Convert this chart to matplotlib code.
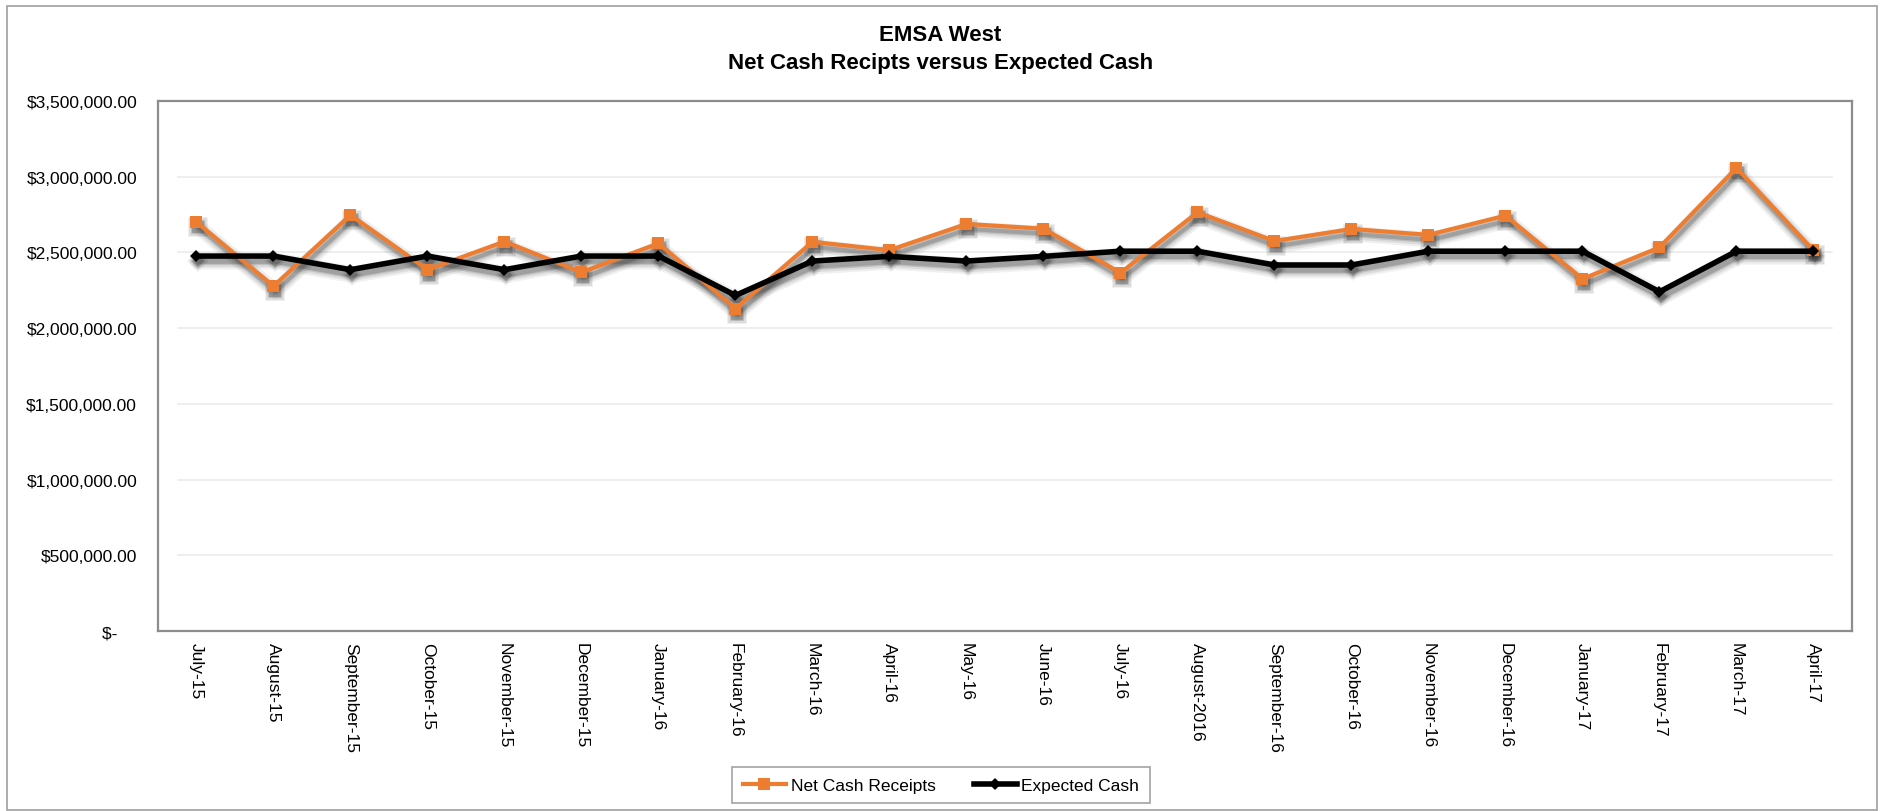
import numpy as np
import matplotlib
matplotlib.use('Agg')
import matplotlib.pyplot as plt
import matplotlib.transforms as mtransforms
from matplotlib.patches import Rectangle
from matplotlib.ticker import FuncFormatter

# --- Data ---
months = ["July-15", "August-15", "September-15", "October-15", "November-15",
          "December-15", "January-16", "February-16", "March-16", "April-16",
          "May-16", "June-16", "July-16", "August-2016", "September-16",
          "October-16", "November-16", "December-16", "January-17",
          "February-17", "March-17", "April-17"]

net_cash = [2700000, 2277000, 2747000, 2386000, 2572000, 2369000, 2560000,
            2129000, 2570000, 2515000, 2688000, 2657000, 2365000, 2765000,
            2575000, 2655000, 2616000, 2743000, 2325000, 2533000, 3058000,
            2513000]

expected_cash = [2476000, 2476000, 2386000, 2476000, 2386000, 2476000, 2476000,
                 2216000, 2443000, 2474000, 2443000, 2474000, 2508000, 2508000,
                 2417000, 2417000, 2508000, 2508000, 2508000, 2240000, 2508000,
                 2508000]

y_ticks = np.arange(0, 3500001, 500000)

ORANGE = '#ED7D31'
FONT = 'Liberation Sans'

plt.rcParams['font.family'] = FONT

W, H, DPI = 1881, 812, 100
fig = plt.figure(figsize=(W / DPI, H / DPI), dpi=DPI, facecolor='white')

# chart-area border
fig.patches.append(Rectangle((7 / W, 1 / H), 1870 / W, 804 / H, transform=fig.transFigure,
                             fill=False, edgecolor='#a6a6a6', linewidth=1.3))

ax = fig.add_axes([158 / W, 1 - 632 / H, (1852 - 158) / W, (632 - 102) / H])
x = np.arange(len(months))

# soft drop shadows under each series (stacked translucent copies)
def shadow(xv, yv, lw, marker, ms):
    off = mtransforms.offset_copy(ax.transData, fig=fig, x=2, y=-5, units='dots')
    for extra, a in [(8, 0.07), (5, 0.10), (2, 0.16), (0, 0.22)]:
        ax.plot(xv, yv, color='#303030', linewidth=lw + extra, alpha=a,
                marker=marker, markersize=ms + extra * 0.7, markeredgewidth=0,
                solid_joinstyle='round', solid_capstyle='round',
                transform=off, zorder=2)

shadow(x, net_cash, 3, 's', 9)
shadow(x, expected_cash, 4, 'D', 6)

ax.plot(x, net_cash, color=ORANGE, linewidth=3, marker='s', markersize=9,
        markeredgewidth=0, label='Net Cash Receipts', zorder=4)
ax.plot(x, expected_cash, color='black', linewidth=4, marker='D', markersize=6,
        markeredgewidth=0, label='Expected Cash', zorder=5)

ax.set_xlim(-0.5, len(months) - 0.5)
ax.set_ylim(0, 3500000)
ax.set_yticks(y_ticks)
ax.set_xticks(x)
ax.set_xticklabels(months, rotation=-90, ha='center', va='top')

def money(v, pos):
    if v == 0:
        return '$-    '
    return f'${v:,.2f}'

ax.yaxis.set_major_formatter(FuncFormatter(money))
ax.tick_params(axis='both', length=0, labelsize=12.5, colors='black')
ax.tick_params(axis='y', pad=15)
ax.tick_params(axis='x', pad=8)

for yv in y_ticks[1:]:
    ax.axhline(yv, xmin=0.012, xmax=0.988, color='#ebebeb', linewidth=1.2, zorder=1)

for s in ax.spines.values():
    s.set_color('#8c8c8c')
    s.set_linewidth(1.6)

fig.text(0.5, 1 - 41 / H, 'EMSA West', ha='center', va='baseline',
         fontsize=16, fontweight='bold')
fig.text(0.5, 1 - 69 / H, 'Net Cash Recipts versus Expected Cash', ha='center',
         va='baseline', fontsize=16, fontweight='bold')

leg = fig.legend(loc='center', bbox_to_anchor=(941 / W, 1 - 786 / H), ncol=2,
                 frameon=True, fancybox=False, fontsize=12.5, handlelength=2.5,
                 handletextpad=0.25, columnspacing=2.2, borderpad=0.6)
leg.get_frame().set_edgecolor('#8c8c8c')
leg.get_frame().set_linewidth(1.2)

fig.savefig('out.png', dpi=DPI, facecolor='white')
